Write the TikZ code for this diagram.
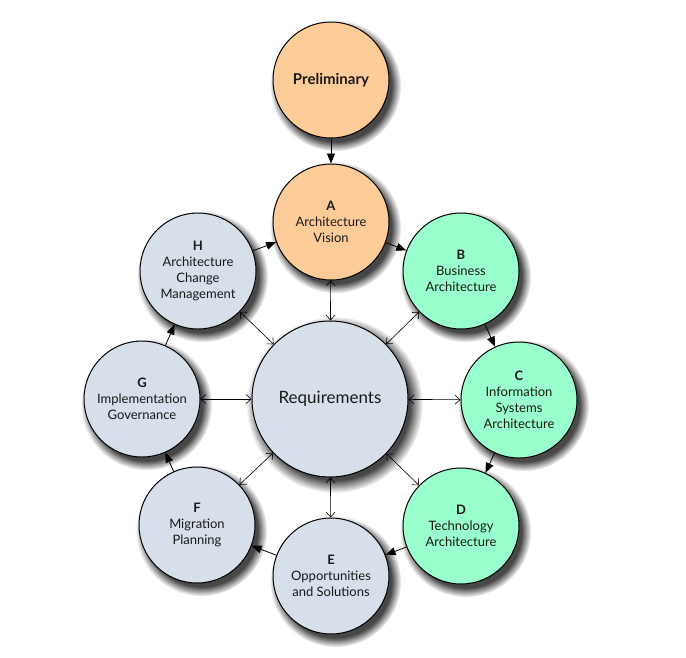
\documentclass[tikz,border=0pt]{standalone}
\usepackage{fontspec}
\setmainfont{Lato}
\usetikzlibrary{positioning, arrows.meta, shadows}
\definecolor{peach}{RGB}{253,204,153}
\definecolor{mint}{RGB}{153,255,204}
\definecolor{steel}{RGB}{214,223,234}

\tikzset{
  phase/.style={circle, draw=black, line width=1pt, minimum size=116pt, inner sep=0pt,
    align=center, text=black!90, font=\fontsize{13}{16}\selectfont,
    circular drop shadow={shadow xshift=4pt, shadow yshift=-5pt, shadow scale=1.13, opacity=0.9, fill=black!80}},
  flow/.style={-{Triangle[length=10pt,width=8pt]}, line width=0.8pt},
  link/.style={{Straight Barb[length=5pt,width=9pt]}-{Straight Barb[length=5pt,width=9pt]}, line width=0.6pt}
}

\begin{document}
\begin{tikzpicture}[x=1pt,y=-1pt]
        \useasboundingbox (0,0) rectangle (686,657);

        % Fases
        \node[phase, fill=peach, font=\fontsize{15}{18}\selectfont\bfseries] (prelim) at (331,80) {Preliminary};
        \node[phase, fill=peach] (phA) at (331,222) {\textbf{A}\\Architecture\\Vision};
        \node[phase, fill=mint] (phB) at (461,271) {\textbf{B}\\Business\\Architecture};
        \node[phase, fill=mint] (phC) at (519,400) {\textbf{C}\\Information\\Systems\\Architecture};
        \node[phase, fill=mint] (phD) at (461,526) {\textbf{D}\\Technology\\Architecture};
        \node[phase, fill=steel] (phE) at (331,576) {\textbf{E}\\Opportunities\\and Solutions};
        \node[phase, fill=steel] (phF) at (197,525) {\textbf{F}\\Migration\\Planning};
        \node[phase, fill=steel] (phG) at (142,399) {\textbf{G}\\Implementation\\Governance};
        \node[phase, fill=steel] (phH) at (198,271) {\textbf{H}\\Architecture\\Change\\Management};

        % Centro
        \node[phase, fill=steel, minimum size=156pt, font=\fontsize{17}{20}\selectfont] (req) at (330,399) {Requirements};

        % Ciclo
        \draw[flow] (prelim) -- (phA);
        \draw[flow] (phA) -- (phB);
        \draw[flow] (phB) -- (phC);
        \draw[flow] (phC) -- (phD);
        \draw[flow] (phD) -- (phE);
        \draw[flow] (phE) -- (phF);
        \draw[flow] (phF) -- (phG);
        \draw[flow] (phG) -- (phH);
        \draw[flow] (phH) -- (phA);

        % Requisitos
        \foreach \ph in {phA, phB, phC, phD, phE, phF, phG, phH}
            \draw[link] (req) -- (\ph);
    \end{tikzpicture}
\end{document}
